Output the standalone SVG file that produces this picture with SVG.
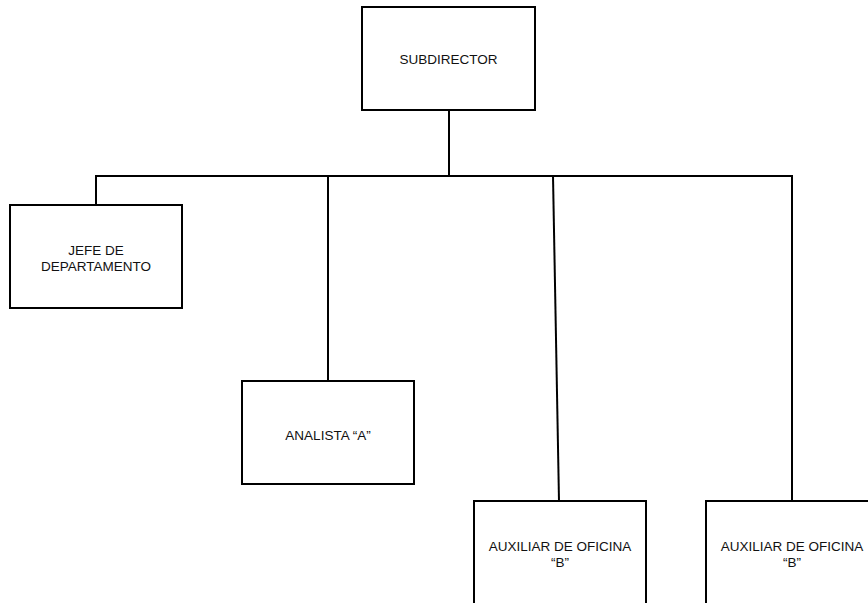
<svg xmlns="http://www.w3.org/2000/svg" width="868" height="603" viewBox="0 0 868 603">
<style>
.box{fill:#fff;stroke:#000;stroke-width:2}
.ln{fill:none;stroke:#000;stroke-width:2}
text{font-family:"Liberation Sans",Arial,sans-serif;font-size:13.5px;fill:#111;text-anchor:middle}
</style>
<rect width="868" height="603" fill="#fff"/>
<g id="connectors">
<path class="ln" d="M449 110V176"/>
<path class="ln" d="M96 205V176H792V501"/>
<path class="ln" d="M328 176V381"/>
<path class="ln" d="M553 176L559 501"/>
</g>
<g id="subdirector">
<rect class="box" x="362" y="7" width="173" height="103"/>
<text x="448.5" y="64">SUBDIRECTOR</text>
</g>
<g id="jefe">
<rect class="box" x="10" y="205" width="172" height="103"/>
<text x="96" y="255">JEFE DE</text>
<text x="96" y="271">DEPARTAMENTO</text>
</g>
<g id="analista">
<rect class="box" x="242" y="381" width="172" height="103"/>
<text x="328" y="440">ANALISTA “A”</text>
</g>
<g id="auxiliar1">
<rect class="box" x="474" y="501" width="172" height="110"/>
<text x="560" y="551">AUXILIAR DE OFICINA</text>
<text x="560" y="567">“B”</text>
</g>
<g id="auxiliar2">
<rect class="box" x="706" y="501" width="172" height="110"/>
<text x="792" y="551">AUXILIAR DE OFICINA</text>
<text x="792" y="567">“B”</text>
</g>
</svg>
